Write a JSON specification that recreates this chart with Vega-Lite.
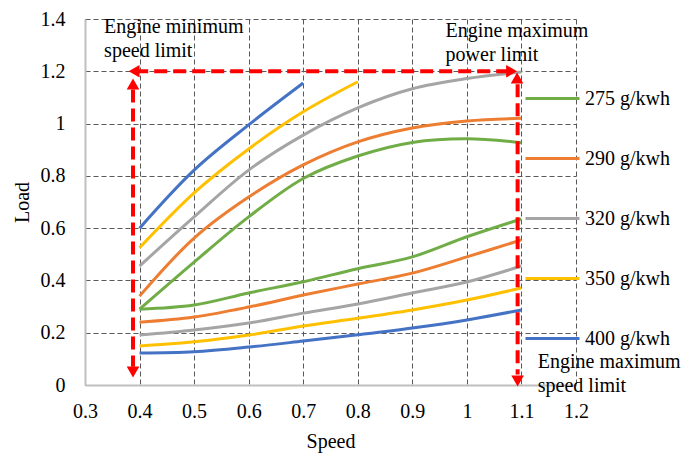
{
  "$schema": "https://vega.github.io/schema/vega-lite/v6.json",
  "width": 491,
  "height": 366,
  "autosize": {"type": "none"},
  "padding": {"left": 85, "top": 19, "right": 124, "bottom": 68},
  "background": "white",
  "config": {
    "font": "Liberation Serif",
    "view": {"stroke": null},
    "axis": {
      "labelFont": "Liberation Serif",
      "titleFont": "Liberation Serif",
      "labelFontSize": 20,
      "titleFontSize": 20,
      "titleFontWeight": "normal",
      "labelColor": "#000000",
      "titleColor": "#000000",
      "ticks": false,
      "domainColor": "#bfbfbf",
      "domainWidth": 2,
      "gridColor": "#595959",
      "gridDash": [5, 3],
      "gridWidth": 1
    },
    "legend": {
      "labelFont": "Liberation Serif",
      "labelFontSize": 20,
      "labelColor": "#000000"
    }
  },
  "layer": [
    {
      "data": {
        "values": [
          {"s": "275 g/kwh", "b": "upper", "x": 0.4, "y": 0.29},
          {"s": "275 g/kwh", "b": "upper", "x": 0.5, "y": 0.47},
          {"s": "275 g/kwh", "b": "upper", "x": 0.6, "y": 0.643},
          {"s": "275 g/kwh", "b": "upper", "x": 0.7, "y": 0.79},
          {"s": "275 g/kwh", "b": "upper", "x": 0.8, "y": 0.876},
          {"s": "275 g/kwh", "b": "upper", "x": 0.9, "y": 0.928},
          {"s": "275 g/kwh", "b": "upper", "x": 1.0, "y": 0.942},
          {"s": "275 g/kwh", "b": "upper", "x": 1.1, "y": 0.927},
          {"s": "275 g/kwh", "b": "lower", "x": 0.4, "y": 0.29},
          {"s": "275 g/kwh", "b": "lower", "x": 0.5, "y": 0.306},
          {"s": "275 g/kwh", "b": "lower", "x": 0.6, "y": 0.352},
          {"s": "275 g/kwh", "b": "lower", "x": 0.7, "y": 0.395},
          {"s": "275 g/kwh", "b": "lower", "x": 0.8, "y": 0.445},
          {"s": "275 g/kwh", "b": "lower", "x": 0.9, "y": 0.49},
          {"s": "275 g/kwh", "b": "lower", "x": 1.0, "y": 0.567},
          {"s": "275 g/kwh", "b": "lower", "x": 1.1, "y": 0.635},
          {"s": "290 g/kwh", "b": "upper", "x": 0.4, "y": 0.34},
          {"s": "290 g/kwh", "b": "upper", "x": 0.5, "y": 0.562},
          {"s": "290 g/kwh", "b": "upper", "x": 0.6, "y": 0.719},
          {"s": "290 g/kwh", "b": "upper", "x": 0.7, "y": 0.842},
          {"s": "290 g/kwh", "b": "upper", "x": 0.8, "y": 0.93},
          {"s": "290 g/kwh", "b": "upper", "x": 0.9, "y": 0.983},
          {"s": "290 g/kwh", "b": "upper", "x": 1.0, "y": 1.01},
          {"s": "290 g/kwh", "b": "upper", "x": 1.1, "y": 1.02},
          {"s": "290 g/kwh", "b": "lower", "x": 0.4, "y": 0.24},
          {"s": "290 g/kwh", "b": "lower", "x": 0.5, "y": 0.26},
          {"s": "290 g/kwh", "b": "lower", "x": 0.6, "y": 0.298},
          {"s": "290 g/kwh", "b": "lower", "x": 0.7, "y": 0.344},
          {"s": "290 g/kwh", "b": "lower", "x": 0.8, "y": 0.386},
          {"s": "290 g/kwh", "b": "lower", "x": 0.9, "y": 0.428},
          {"s": "290 g/kwh", "b": "lower", "x": 1.0, "y": 0.49},
          {"s": "290 g/kwh", "b": "lower", "x": 1.1, "y": 0.555},
          {"s": "320 g/kwh", "b": "upper", "x": 0.4, "y": 0.455},
          {"s": "320 g/kwh", "b": "upper", "x": 0.5, "y": 0.643},
          {"s": "320 g/kwh", "b": "upper", "x": 0.6, "y": 0.822},
          {"s": "320 g/kwh", "b": "upper", "x": 0.7, "y": 0.956},
          {"s": "320 g/kwh", "b": "upper", "x": 0.8, "y": 1.06},
          {"s": "320 g/kwh", "b": "upper", "x": 0.9, "y": 1.133},
          {"s": "320 g/kwh", "b": "upper", "x": 1.0, "y": 1.172},
          {"s": "320 g/kwh", "b": "upper", "x": 1.1, "y": 1.197},
          {"s": "320 g/kwh", "b": "lower", "x": 0.4, "y": 0.191},
          {"s": "320 g/kwh", "b": "lower", "x": 0.5, "y": 0.21},
          {"s": "320 g/kwh", "b": "lower", "x": 0.6, "y": 0.237},
          {"s": "320 g/kwh", "b": "lower", "x": 0.7, "y": 0.275},
          {"s": "320 g/kwh", "b": "lower", "x": 0.8, "y": 0.31},
          {"s": "320 g/kwh", "b": "lower", "x": 0.9, "y": 0.352},
          {"s": "320 g/kwh", "b": "lower", "x": 1.0, "y": 0.394},
          {"s": "320 g/kwh", "b": "lower", "x": 1.1, "y": 0.455},
          {"s": "350 g/kwh", "b": "upper", "x": 0.4, "y": 0.525},
          {"s": "350 g/kwh", "b": "upper", "x": 0.5, "y": 0.735},
          {"s": "350 g/kwh", "b": "upper", "x": 0.6, "y": 0.903},
          {"s": "350 g/kwh", "b": "upper", "x": 0.7, "y": 1.045},
          {"s": "350 g/kwh", "b": "upper", "x": 0.8, "y": 1.16},
          {"s": "350 g/kwh", "b": "lower", "x": 0.4, "y": 0.149},
          {"s": "350 g/kwh", "b": "lower", "x": 0.5, "y": 0.165},
          {"s": "350 g/kwh", "b": "lower", "x": 0.6, "y": 0.191},
          {"s": "350 g/kwh", "b": "lower", "x": 0.7, "y": 0.226},
          {"s": "350 g/kwh", "b": "lower", "x": 0.8, "y": 0.255},
          {"s": "350 g/kwh", "b": "lower", "x": 0.9, "y": 0.287},
          {"s": "350 g/kwh", "b": "lower", "x": 1.0, "y": 0.325},
          {"s": "350 g/kwh", "b": "lower", "x": 1.1, "y": 0.371},
          {"s": "400 g/kwh", "b": "upper", "x": 0.4, "y": 0.6},
          {"s": "400 g/kwh", "b": "upper", "x": 0.5, "y": 0.822},
          {"s": "400 g/kwh", "b": "upper", "x": 0.6, "y": 0.995},
          {"s": "400 g/kwh", "b": "upper", "x": 0.7, "y": 1.155},
          {"s": "400 g/kwh", "b": "lower", "x": 0.4, "y": 0.122},
          {"s": "400 g/kwh", "b": "lower", "x": 0.5, "y": 0.127},
          {"s": "400 g/kwh", "b": "lower", "x": 0.6, "y": 0.145},
          {"s": "400 g/kwh", "b": "lower", "x": 0.7, "y": 0.168},
          {"s": "400 g/kwh", "b": "lower", "x": 0.8, "y": 0.192},
          {"s": "400 g/kwh", "b": "lower", "x": 0.9, "y": 0.218},
          {"s": "400 g/kwh", "b": "lower", "x": 1.0, "y": 0.249},
          {"s": "400 g/kwh", "b": "lower", "x": 1.1, "y": 0.287}
        ]
      },
      "mark": {"type": "line", "strokeWidth": 3, "interpolate": "catmull-rom"},
      "encoding": {
        "x": {
          "field": "x", "type": "quantitative", "title": "Speed",
          "scale": {"domain": [0.3, 1.2], "nice": false, "zero": false},
          "axis": {"values": [0.3, 0.4, 0.5, 0.6, 0.7, 0.8, 0.9, 1, 1.1, 1.2], "labelPadding": 16, "titlePadding": 10, "labelFlush": false, "labelFont": "Liberation Serif", "titleFont": "Liberation Serif", "titleFontWeight": "normal", "labelExpr": "datum.value == 1 ? '1' : format(datum.value, '.1f')"}
        },
        "y": {
          "field": "y", "type": "quantitative", "title": "Load",
          "scale": {"domain": [0, 1.4], "nice": false},
          "axis": {"values": [0, 0.2, 0.4, 0.6, 0.8, 1, 1.2, 1.4], "labelPadding": 20, "titlePadding": 8, "labelFlush": false, "labelFont": "Liberation Serif", "titleFont": "Liberation Serif", "titleFontWeight": "normal", "labelExpr": "datum.value == 0 ? '0' : datum.value == 1 ? '1' : format(datum.value, '.1f')"}
        },
        "color": {
          "field": "s", "type": "nominal",
          "scale": {"domain": ["275 g/kwh", "290 g/kwh", "320 g/kwh", "350 g/kwh", "400 g/kwh"], "range": ["#70ad47", "#ed7d31", "#a5a5a5", "#ffc000", "#4472c4"]},
          "legend": {
            "title": null, "orient": "none", "legendX": 439, "legendY": 51,
            "symbolType": "stroke", "symbolSize": 2916, "symbolStrokeWidth": 3,
            "labelOffset": 4, "rowPadding": 21, "padding": 0,
            "labelFont": "Liberation Serif"
          }
        },
        "detail": {"field": "b"}
      }
    },
    {
      "data": {
        "values": [
          {"x": 0.392, "x2": 1.085, "y": 1.2, "y2": 1.2},
          {"x": 0.388, "x2": 0.388, "y": 1.13, "y2": 0.07},
          {"x": 1.093, "x2": 1.093, "y": 1.15, "y2": 0.04}
        ]
      },
      "mark": {"type": "rule", "color": "#ff0000", "strokeWidth": 4, "strokeDash": [13, 6]},
      "encoding": {
        "x": {"field": "x", "type": "quantitative"},
        "x2": {"field": "x2"},
        "y": {"field": "y", "type": "quantitative"},
        "y2": {"field": "y2"}
      }
    },
    {
      "data": {
        "values": [
          {"x": 0.39, "y": 1.2, "dir": "left"},
          {"x": 0.388, "y": 1.151, "dir": "up"},
          {"x": 0.388, "y": 0.05, "dir": "down"},
          {"x": 1.082, "y": 1.2, "dir": "right"},
          {"x": 1.092, "y": 1.174, "dir": "up"},
          {"x": 1.093, "y": 0.015, "dir": "down"}
        ]
      },
      "mark": {"type": "point", "filled": true, "color": "#ff0000", "opacity": 1, "size": 160},
      "encoding": {
        "x": {"field": "x", "type": "quantitative"},
        "y": {"field": "y", "type": "quantitative"},
        "shape": {
          "field": "dir", "type": "nominal", "legend": null,
          "scale": {"domain": ["up", "down", "left", "right"], "range": ["triangle-up", "triangle-down", "triangle-left", "triangle-right"]}
        }
      }
    },
    {
      "data": {
        "values": [
          {"x": 0.335, "y": 1.347, "t": "Engine minimum\nspeed limit"},
          {"x": 0.961, "y": 1.331, "t": "Engine maximum\npower limit"},
          {"x": 1.13, "y": 0.065, "t": "Engine maximum\nspeed limit"}
        ]
      },
      "mark": {"type": "text", "align": "left", "baseline": "alphabetic", "lineBreak": "\n", "lineHeight": 24, "fontSize": 20, "font": "Liberation Serif", "color": "#000000"},
      "encoding": {
        "x": {"field": "x", "type": "quantitative"},
        "y": {"field": "y", "type": "quantitative"},
        "text": {"field": "t"}
      }
    }
  ]
}
